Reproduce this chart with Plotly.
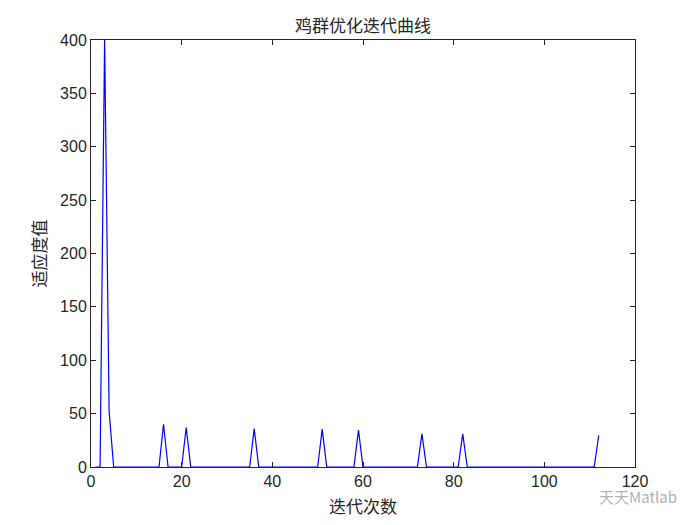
import plotly.graph_objects as go

iterations = list(range(1, 113))
peak_iters = [3, 4, 16, 21, 36, 51, 59, 73, 82, 112]
peak_vals = [400, 52, 40, 37, 36, 35.5, 34.5, 31, 31, 29.5]
fitness = [0.0] * len(iterations)
for it, v in zip(peak_iters, peak_vals):
    fitness[it - 1] = v

x_ticks = [0, 20, 40, 60, 80, 100, 120]
y_ticks = [0, 50, 100, 150, 200, 250, 300, 350, 400]

axis_color = "#262626"
tick_font = dict(family="Liberation Sans, Arial", size=16, color=axis_color)
cjk = "Noto Sans CJK SC"

fig = go.Figure()
fig.add_trace(go.Scatter(x=iterations, y=fitness, mode="lines",
                         line=dict(color="#0000ff", width=1.2), showlegend=False))

common = dict(showgrid=False, zeroline=False, showline=True, linecolor=axis_color,
              linewidth=1, mirror="ticks", ticks="inside", ticklen=5,
              tickcolor=axis_color, tickfont=tick_font)

fig.update_xaxes(range=[0, 120], tickvals=x_ticks,
                 title=dict(text="迭代次数", font=dict(family=cjk, size=17, color=axis_color), standoff=11),
                 **common)
fig.update_yaxes(range=[0, 400], tickvals=y_ticks,
                 title=dict(text="适应度值", font=dict(family=cjk, size=17, color=axis_color), standoff=9),
                 **common)

fig.update_layout(
    width=700, height=525,
    margin=dict(l=83, r=73, t=32, b=66),
    paper_bgcolor="white", plot_bgcolor="white",
    title=dict(text="鸡群优化迭代曲线", x=(83 + 627) / 2 / 700, xanchor="center",
               y=1 - 18 / 525, yanchor="middle",
               font=dict(family=cjk, size=17, color=axis_color)),
)

fig.add_annotation(text="天天Matlab", xref="paper", yref="paper", x=0.93, y=-0.068,
                   xanchor="left", yanchor="middle", showarrow=False,
                   font=dict(family=cjk, size=15, color="rgba(110,110,110,0.55)"))

fig.write_html("out.html")
